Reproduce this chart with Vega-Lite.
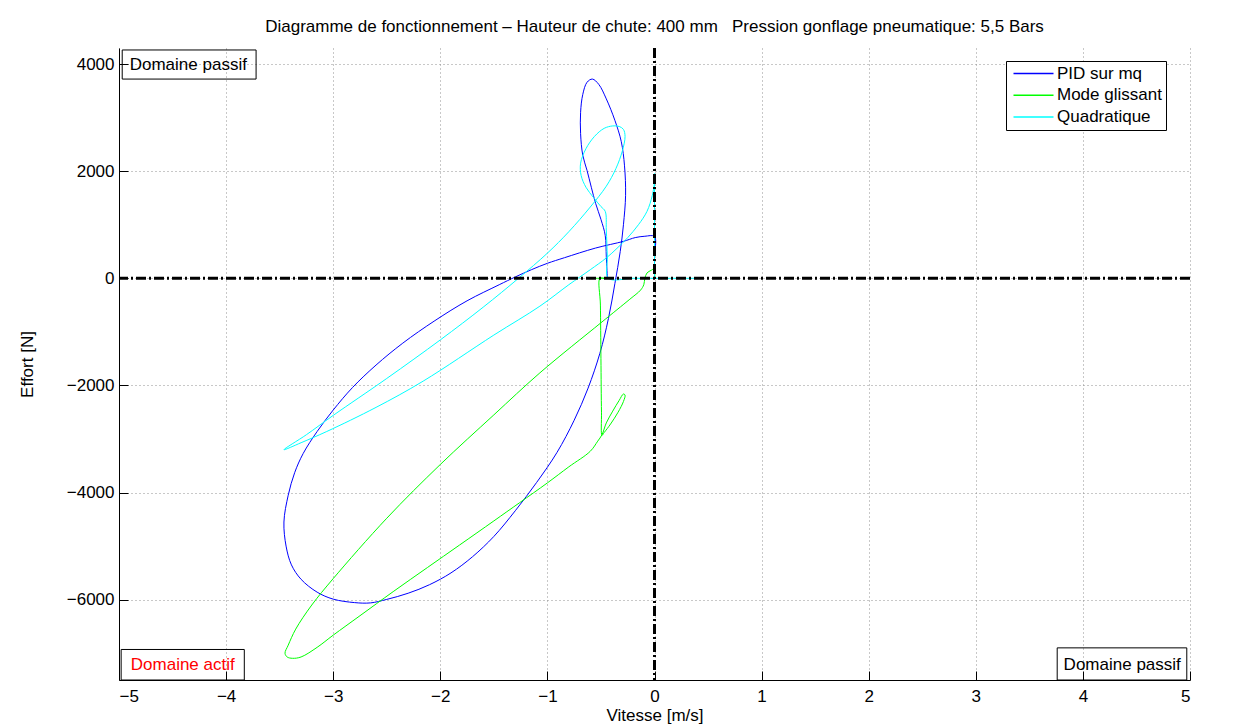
{
  "$schema": "https://vega.github.io/schema/vega-lite/v6.json",
  "width": 1071,
  "height": 632,
  "autosize": {"type": "none"},
  "padding": {"left": 119, "top": 48, "right": 44, "bottom": 45},
  "background": "white",
  "title": {
    "text": "Diagramme de fonctionnement – Hauteur de chute: 400 mm \u00a0 Pression gonflage pneumatique: 5,5 Bars",
    "fontSize": 17, "fontWeight": "normal", "font": "Liberation Sans", "color": "black",
    "baseline": "alphabetic", "offset": -2, "anchor": "middle"
  },
  "config": {
    "view": {"stroke": null},
    "font": "Liberation Sans",
    "axis": {
      "domainColor": "black", "domainWidth": 1,
      "tickColor": "black", "tickSize": -9, "tickWidth": 1,
      "labelColor": "black", "labelFontSize": 17, "labelFont": "Liberation Sans",
      "titleColor": "black", "titleFontSize": 17, "titleFontWeight": "normal", "titleFont": "Liberation Sans",
      "grid": true, "gridColor": "#909090", "gridDash": [1, 3], "gridWidth": 1, "gridOpacity": 1
    },
    "legend": {
      "labelFont": "Liberation Sans", "labelFontSize": 17, "labelColor": "black"
    }
  },
  "datasets": {
    "curves": [
      {"serie": "PID sur mq", "Vitesse": 0, "Effort": 0},
      {"serie": "PID sur mq", "Vitesse": 0, "Effort": 400},
      {"serie": "PID sur mq", "Vitesse": 0, "Effort": 780},
      {"serie": "PID sur mq", "Vitesse": -0.09, "Effort": 785},
      {"serie": "PID sur mq", "Vitesse": -0.18, "Effort": 760},
      {"serie": "PID sur mq", "Vitesse": -0.29, "Effort": 690},
      {"serie": "PID sur mq", "Vitesse": -0.55, "Effort": 565},
      {"serie": "PID sur mq", "Vitesse": -0.84, "Effort": 385},
      {"serie": "PID sur mq", "Vitesse": -1.0, "Effort": 280},
      {"serie": "PID sur mq", "Vitesse": -1.15, "Effort": 160},
      {"serie": "PID sur mq", "Vitesse": -1.3, "Effort": 25},
      {"serie": "PID sur mq", "Vitesse": -1.45, "Effort": -120},
      {"serie": "PID sur mq", "Vitesse": -1.75, "Effort": -420},
      {"serie": "PID sur mq", "Vitesse": -2.05, "Effort": -790},
      {"serie": "PID sur mq", "Vitesse": -2.35, "Effort": -1210},
      {"serie": "PID sur mq", "Vitesse": -2.6, "Effort": -1620},
      {"serie": "PID sur mq", "Vitesse": -2.82, "Effort": -2040},
      {"serie": "PID sur mq", "Vitesse": -3.0, "Effort": -2460},
      {"serie": "PID sur mq", "Vitesse": -3.15, "Effort": -2860},
      {"serie": "PID sur mq", "Vitesse": -3.28, "Effort": -3270},
      {"serie": "PID sur mq", "Vitesse": -3.36, "Effort": -3630},
      {"serie": "PID sur mq", "Vitesse": -3.42, "Effort": -4050},
      {"serie": "PID sur mq", "Vitesse": -3.46, "Effort": -4550},
      {"serie": "PID sur mq", "Vitesse": -3.44, "Effort": -5000},
      {"serie": "PID sur mq", "Vitesse": -3.39, "Effort": -5350},
      {"serie": "PID sur mq", "Vitesse": -3.3, "Effort": -5620},
      {"serie": "PID sur mq", "Vitesse": -3.15, "Effort": -5860},
      {"serie": "PID sur mq", "Vitesse": -3.0, "Effort": -5990},
      {"serie": "PID sur mq", "Vitesse": -2.8, "Effort": -6055},
      {"serie": "PID sur mq", "Vitesse": -2.65, "Effort": -6060},
      {"serie": "PID sur mq", "Vitesse": -2.5, "Effort": -5995},
      {"serie": "PID sur mq", "Vitesse": -2.3, "Effort": -5880},
      {"serie": "PID sur mq", "Vitesse": -2.1, "Effort": -5720},
      {"serie": "PID sur mq", "Vitesse": -1.9, "Effort": -5500},
      {"serie": "PID sur mq", "Vitesse": -1.7, "Effort": -5200},
      {"serie": "PID sur mq", "Vitesse": -1.5, "Effort": -4820},
      {"serie": "PID sur mq", "Vitesse": -1.3, "Effort": -4340},
      {"serie": "PID sur mq", "Vitesse": -1.1, "Effort": -3810},
      {"serie": "PID sur mq", "Vitesse": -0.91, "Effort": -3250},
      {"serie": "PID sur mq", "Vitesse": -0.75, "Effort": -2650},
      {"serie": "PID sur mq", "Vitesse": -0.62, "Effort": -2050},
      {"serie": "PID sur mq", "Vitesse": -0.51, "Effort": -1400},
      {"serie": "PID sur mq", "Vitesse": -0.43, "Effort": -750},
      {"serie": "PID sur mq", "Vitesse": -0.37, "Effort": -100},
      {"serie": "PID sur mq", "Vitesse": -0.32, "Effort": 500},
      {"serie": "PID sur mq", "Vitesse": -0.29, "Effort": 1000},
      {"serie": "PID sur mq", "Vitesse": -0.27, "Effort": 1550},
      {"serie": "PID sur mq", "Vitesse": -0.28, "Effort": 2100},
      {"serie": "PID sur mq", "Vitesse": -0.31, "Effort": 2550},
      {"serie": "PID sur mq", "Vitesse": -0.37, "Effort": 2950},
      {"serie": "PID sur mq", "Vitesse": -0.45, "Effort": 3350},
      {"serie": "PID sur mq", "Vitesse": -0.52, "Effort": 3620},
      {"serie": "PID sur mq", "Vitesse": -0.58, "Effort": 3720},
      {"serie": "PID sur mq", "Vitesse": -0.63, "Effort": 3660},
      {"serie": "PID sur mq", "Vitesse": -0.67, "Effort": 3430},
      {"serie": "PID sur mq", "Vitesse": -0.69, "Effort": 3100},
      {"serie": "PID sur mq", "Vitesse": -0.69, "Effort": 2700},
      {"serie": "PID sur mq", "Vitesse": -0.67, "Effort": 2300},
      {"serie": "PID sur mq", "Vitesse": -0.63, "Effort": 2015},
      {"serie": "PID sur mq", "Vitesse": -0.59, "Effort": 1700},
      {"serie": "PID sur mq", "Vitesse": -0.55, "Effort": 1400},
      {"serie": "PID sur mq", "Vitesse": -0.5, "Effort": 1100},
      {"serie": "PID sur mq", "Vitesse": -0.46, "Effort": 800},
      {"serie": "PID sur mq", "Vitesse": -0.45, "Effort": 400},
      {"serie": "PID sur mq", "Vitesse": -0.44, "Effort": 0},

      {"serie": "Mode glissant", "Vitesse": 0, "Effort": 0},
      {"serie": "Mode glissant", "Vitesse": 0, "Effort": 180},
      {"serie": "Mode glissant", "Vitesse": -0.03, "Effort": 150},
      {"serie": "Mode glissant", "Vitesse": -0.07, "Effort": 100},
      {"serie": "Mode glissant", "Vitesse": -0.09, "Effort": 0},
      {"serie": "Mode glissant", "Vitesse": -0.1, "Effort": -120},
      {"serie": "Mode glissant", "Vitesse": -0.13, "Effort": -220},
      {"serie": "Mode glissant", "Vitesse": -0.23, "Effort": -390},
      {"serie": "Mode glissant", "Vitesse": -0.5, "Effort": -830},
      {"serie": "Mode glissant", "Vitesse": -1.07, "Effort": -1765},
      {"serie": "Mode glissant", "Vitesse": -1.5, "Effort": -2550},
      {"serie": "Mode glissant", "Vitesse": -2.0, "Effort": -3476},
      {"serie": "Mode glissant", "Vitesse": -2.5, "Effort": -4480},
      {"serie": "Mode glissant", "Vitesse": -3.0, "Effort": -5607},
      {"serie": "Mode glissant", "Vitesse": -3.2, "Effort": -6100},
      {"serie": "Mode glissant", "Vitesse": -3.35, "Effort": -6550},
      {"serie": "Mode glissant", "Vitesse": -3.42, "Effort": -6850},
      {"serie": "Mode glissant", "Vitesse": -3.45, "Effort": -7000},
      {"serie": "Mode glissant", "Vitesse": -3.43, "Effort": -7070},
      {"serie": "Mode glissant", "Vitesse": -3.38, "Effort": -7095},
      {"serie": "Mode glissant", "Vitesse": -3.3, "Effort": -7070},
      {"serie": "Mode glissant", "Vitesse": -3.15, "Effort": -6890},
      {"serie": "Mode glissant", "Vitesse": -3.0, "Effort": -6663},
      {"serie": "Mode glissant", "Vitesse": -2.75, "Effort": -6300},
      {"serie": "Mode glissant", "Vitesse": -2.44, "Effort": -5850},
      {"serie": "Mode glissant", "Vitesse": -2.12, "Effort": -5400},
      {"serie": "Mode glissant", "Vitesse": -1.82, "Effort": -4980},
      {"serie": "Mode glissant", "Vitesse": -1.5, "Effort": -4530},
      {"serie": "Mode glissant", "Vitesse": -1.26, "Effort": -4190},
      {"serie": "Mode glissant", "Vitesse": -1.0, "Effort": -3820},
      {"serie": "Mode glissant", "Vitesse": -0.8, "Effort": -3520},
      {"serie": "Mode glissant", "Vitesse": -0.6, "Effort": -3230},
      {"serie": "Mode glissant", "Vitesse": -0.53, "Effort": -3040},
      {"serie": "Mode glissant", "Vitesse": -0.49, "Effort": -2920},
      {"serie": "Mode glissant", "Vitesse": -0.45, "Effort": -2700},
      {"serie": "Mode glissant", "Vitesse": -0.39, "Effort": -2480},
      {"serie": "Mode glissant", "Vitesse": -0.33, "Effort": -2280},
      {"serie": "Mode glissant", "Vitesse": -0.29, "Effort": -2160},
      {"serie": "Mode glissant", "Vitesse": -0.275, "Effort": -2180},
      {"serie": "Mode glissant", "Vitesse": -0.29, "Effort": -2300},
      {"serie": "Mode glissant", "Vitesse": -0.34, "Effort": -2500},
      {"serie": "Mode glissant", "Vitesse": -0.41, "Effort": -2720},
      {"serie": "Mode glissant", "Vitesse": -0.47, "Effort": -2880},
      {"serie": "Mode glissant", "Vitesse": -0.49, "Effort": -2930},
      {"serie": "Mode glissant", "Vitesse": -0.495, "Effort": -2500},
      {"serie": "Mode glissant", "Vitesse": -0.5, "Effort": -1500},
      {"serie": "Mode glissant", "Vitesse": -0.505, "Effort": -500},
      {"serie": "Mode glissant", "Vitesse": -0.51, "Effort": 0},
      {"serie": "Mode glissant", "Vitesse": -0.47, "Effort": 0},
      {"serie": "Mode glissant", "Vitesse": -0.43, "Effort": 0},
      {"serie": "Mode glissant", "Vitesse": -0.53, "Effort": 0},
      {"serie": "Mode glissant", "Vitesse": -0.63, "Effort": 0},

      {"serie": "Quadratique", "Vitesse": 0, "Effort": 0},
      {"serie": "Quadratique", "Vitesse": 0, "Effort": 1000},
      {"serie": "Quadratique", "Vitesse": 0, "Effort": 1960},
      {"serie": "Quadratique", "Vitesse": 0, "Effort": 1800},
      {"serie": "Quadratique", "Vitesse": -0.02, "Effort": 1550},
      {"serie": "Quadratique", "Vitesse": -0.07, "Effort": 1250},
      {"serie": "Quadratique", "Vitesse": -0.15, "Effort": 1000},
      {"serie": "Quadratique", "Vitesse": -0.25, "Effort": 760},
      {"serie": "Quadratique", "Vitesse": -0.35, "Effort": 560},
      {"serie": "Quadratique", "Vitesse": -0.45, "Effort": 380},
      {"serie": "Quadratique", "Vitesse": -0.6, "Effort": 160},
      {"serie": "Quadratique", "Vitesse": -0.8, "Effort": -120},
      {"serie": "Quadratique", "Vitesse": -1.07, "Effort": -520},
      {"serie": "Quadratique", "Vitesse": -1.5, "Effort": -1060},
      {"serie": "Quadratique", "Vitesse": -2.16, "Effort": -1920},
      {"serie": "Quadratique", "Vitesse": -2.6, "Effort": -2410},
      {"serie": "Quadratique", "Vitesse": -3.06, "Effort": -2860},
      {"serie": "Quadratique", "Vitesse": -3.3, "Effort": -3070},
      {"serie": "Quadratique", "Vitesse": -3.46, "Effort": -3200},
      {"serie": "Quadratique", "Vitesse": -3.25, "Effort": -2920},
      {"serie": "Quadratique", "Vitesse": -3.0, "Effort": -2560},
      {"serie": "Quadratique", "Vitesse": -2.5, "Effort": -1870},
      {"serie": "Quadratique", "Vitesse": -2.0, "Effort": -1150},
      {"serie": "Quadratique", "Vitesse": -1.6, "Effort": -540},
      {"serie": "Quadratique", "Vitesse": -1.27, "Effort": 0},
      {"serie": "Quadratique", "Vitesse": -1.0, "Effort": 470},
      {"serie": "Quadratique", "Vitesse": -0.8, "Effort": 870},
      {"serie": "Quadratique", "Vitesse": -0.6, "Effort": 1330},
      {"serie": "Quadratique", "Vitesse": -0.45, "Effort": 1720},
      {"serie": "Quadratique", "Vitesse": -0.36, "Effort": 2050},
      {"serie": "Quadratique", "Vitesse": -0.3, "Effort": 2380},
      {"serie": "Quadratique", "Vitesse": -0.275, "Effort": 2650},
      {"serie": "Quadratique", "Vitesse": -0.29, "Effort": 2780},
      {"serie": "Quadratique", "Vitesse": -0.33, "Effort": 2835},
      {"serie": "Quadratique", "Vitesse": -0.39, "Effort": 2845},
      {"serie": "Quadratique", "Vitesse": -0.47, "Effort": 2800},
      {"serie": "Quadratique", "Vitesse": -0.56, "Effort": 2650},
      {"serie": "Quadratique", "Vitesse": -0.64, "Effort": 2420},
      {"serie": "Quadratique", "Vitesse": -0.69, "Effort": 2150},
      {"serie": "Quadratique", "Vitesse": -0.685, "Effort": 1920},
      {"serie": "Quadratique", "Vitesse": -0.64, "Effort": 1700},
      {"serie": "Quadratique", "Vitesse": -0.57, "Effort": 1510},
      {"serie": "Quadratique", "Vitesse": -0.5, "Effort": 1340},
      {"serie": "Quadratique", "Vitesse": -0.46, "Effort": 1250},
      {"serie": "Quadratique", "Vitesse": -0.45, "Effort": 900},
      {"serie": "Quadratique", "Vitesse": -0.44, "Effort": 400},
      {"serie": "Quadratique", "Vitesse": -0.43, "Effort": 0},
      {"serie": "Quadratique", "Vitesse": -0.2, "Effort": 0},
      {"serie": "Quadratique", "Vitesse": 0.2, "Effort": 0},
      {"serie": "Quadratique", "Vitesse": 0.44, "Effort": 0}
    ],
    "boxes": [
      {"t": "Domaine passif", "x1": -4.97, "x2": -3.72, "y1": 3720, "y2": 4263, "tx": -4.9, "ty": 3990},
      {"t": "Domaine actif", "x1": -4.98, "x2": -3.83, "y1": -7500, "y2": -6930, "tx": -4.89, "ty": -7225},
      {"t": "Domaine passif", "x1": 3.76, "x2": 4.97, "y1": -7500, "y2": -6900, "tx": 3.82, "ty": -7215}
    ],
    "zeros": [{"z": 0}]
  },
  "layer": [
    {
      "data": {"name": "boxes"},
      "mark": {"type": "rect", "fill": null, "fillOpacity": 0, "stroke": "black", "strokeWidth": 1},
      "encoding": {
        "x": {"field": "x1", "type": "quantitative", "scale": {"domain": [-5, 5], "nice": false, "zero": false},
              "axis": {"values": [-5, -4, -3, -2, -1, 0, 1, 2, 3, 4, 5], "title": "Vitesse [m/s]", "labelPadding": 17, "titlePadding": 3, "format": "d"}},
        "x2": {"field": "x2"},
        "y": {"field": "y1", "type": "quantitative", "scale": {"domain": [-7500, 4300], "nice": false, "zero": false},
              "axis": {"values": [-6000, -4000, -2000, 0, 2000, 4000], "title": "Effort [N]", "labelPadding": 14, "titlePadding": 30, "format": "d"}},
        "y2": {"field": "y2"}
      }
    },
    {
      "data": {"name": "boxes"},
      "mark": {"type": "text", "align": "left", "baseline": "middle", "fontSize": 17, "font": "Liberation Sans"},
      "encoding": {
        "x": {"field": "tx", "type": "quantitative"},
        "y": {"field": "ty", "type": "quantitative"},
        "text": {"field": "t"},
        "color": {"condition": {"test": "datum.t === 'Domaine actif'", "value": "#ff0000"}, "value": "black"}
      }
    },
    {
      "data": {"name": "curves"},
      "mark": {"type": "line", "strokeWidth": 1, "interpolate": "catmull-rom"},
      "encoding": {
        "x": {"field": "Vitesse", "type": "quantitative"},
        "y": {"field": "Effort", "type": "quantitative"},
        "order": {"value": null},
        "color": {
          "field": "serie", "type": "nominal",
          "scale": {"domain": ["PID sur mq", "Mode glissant", "Quadratique"], "range": ["#0000ff", "#00ff00", "#00ffff"]},
          "legend": {
            "title": null, "orient": "none", "legendX": 887, "legendY": 13,
            "symbolType": "M-1,0H7", "symbolSize": 100, "symbolStrokeWidth": 1.5,
            "strokeColor": "black", "fillColor": "white", "padding": 4, "rowPadding": 3.8, "labelOffset": 30
          }
        }
      }
    },
    {
      "data": {"name": "zeros"},
      "mark": {"type": "rule", "color": "black", "strokeWidth": 3, "strokeDash": [10, 3, 2, 3]},
      "encoding": {"x": {"field": "z", "type": "quantitative"}}
    },
    {
      "data": {"name": "zeros"},
      "mark": {"type": "rule", "color": "black", "strokeWidth": 3, "strokeDash": [10, 3, 2, 3]},
      "encoding": {"y": {"field": "z", "type": "quantitative"}}
    }
  ]
}
